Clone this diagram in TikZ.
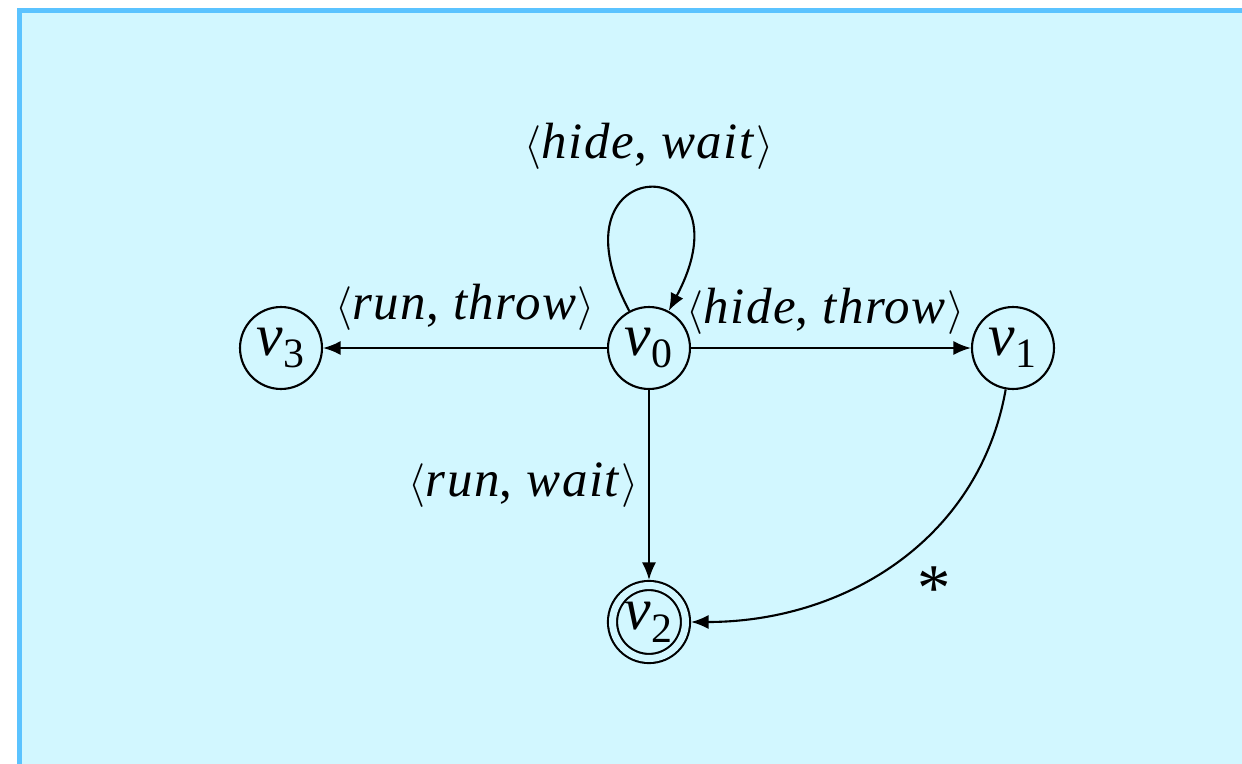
\documentclass[tikz,border=0pt]{standalone}
\usepackage{fontspec}
\setmainfont{Liberation Serif}
\usetikzlibrary{arrows.meta, positioning}
\definecolor{frame}{RGB}{91,195,255}
\definecolor{panel}{RGB}{210,247,255}
\newcommand{\act}[2]{$\langle$\textit{#1}, \textit{#2}$\rangle$}
\newcommand{\st}[1]{\textit{v}\textsubscript{#1}}

\begin{document}
\begin{tikzpicture}[
      x=0.02cm, y=0.02cm,
      state/.style={circle, draw, line width=1.2pt, minimum size=1.64cm, inner sep=0pt,
                    font=\fontsize{34}{40}\selectfont},
      goal/.style={state, minimum size=1.46cm, double=panel, double distance=0.14cm,
                   outer sep=0.11cm},
      arr/.style={-{Latex[length=10pt, width=8pt]}, line width=1.2pt},
      lbl/.style={font=\fontsize{29}{34}\selectfont\addfontfeature{LetterSpace=3}}
    ]
      \useasboundingbox (0,0) rectangle (1242,-764);
      \fill[frame] (17,-8) rectangle (1242,-764);
      \fill[panel] (22,-13) rectangle (1242,-764);
      % states
      \node[state] (v0) at (649,-348) {\st{0}};
      \node[state] (v1) at (1013,-348) {\st{1}};
      \node[state] (v3) at (281,-348) {\st{3}};
      \node[goal] (v2) at (649,-622) {\st{2}};
      % moves
      \draw[arr] (v0) to[out=118, in=62, looseness=12] node[lbl, above=7pt] {\act{hide}{wait}} (v0);
      \draw[arr] (v0) -- node[lbl, above=6pt] {\act{run}{throw}} (v3);
      \draw[arr] (v0) -- node[lbl, above=4pt, pos=0.48] {\act{hide}{throw}} (v1);
      \draw[arr] (v0) -- node[lbl, left=2pt] {\act{run}{wait}} (v2);
      \draw[arr] (v1) to[out=-100, in=0] node[font=\fontsize{38}{40}\selectfont, below right=4pt, pos=0.47] {*} (v2);
    \end{tikzpicture}
\end{document}
